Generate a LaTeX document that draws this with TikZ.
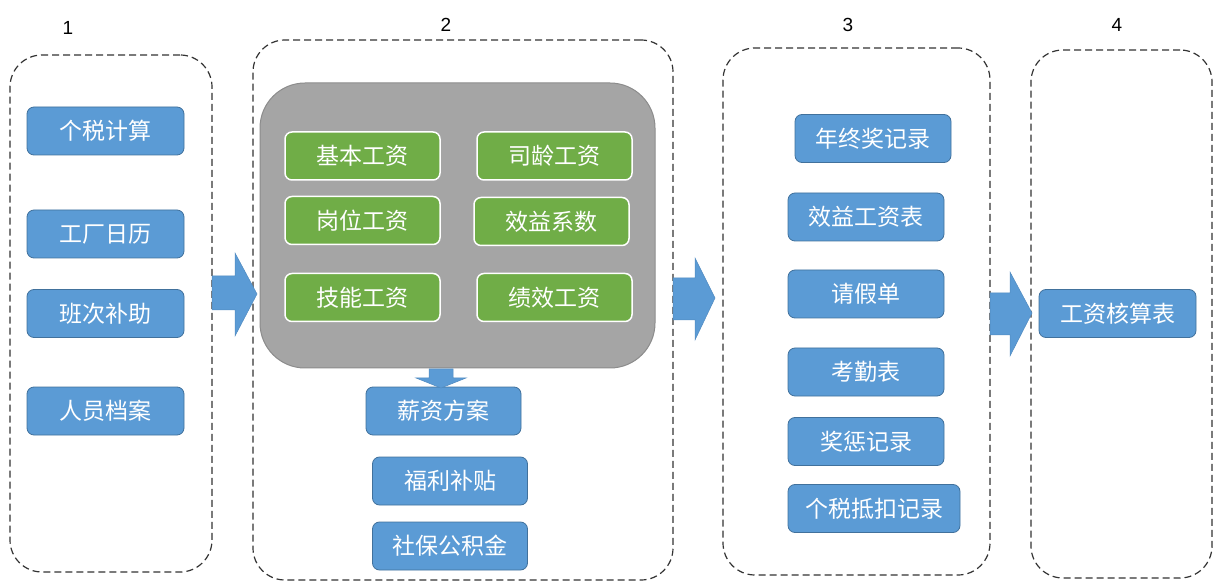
\documentclass[tikz,border=0pt]{standalone}
\usepackage{fontspec}
\setmainfont{Liberation Sans}
\newfontfamily\cjk{Noto Sans CJK SC}
\usepackage{xcolor}
\usepackage{tikz}
\usetikzlibrary{positioning,calc}

\definecolor{boxblue}{HTML}{5B9BD5}
\definecolor{boxblueline}{HTML}{41719C}
\definecolor{boxgreen}{HTML}{70AD47}
\definecolor{panelgray}{HTML}{A5A5A5}
\definecolor{panelline}{HTML}{8C8C8C}

\tikzset{
    group/.style={draw=black!80, dash pattern=on 7pt off 4pt, line width=1.2pt,
        rounded corners=32pt, inner sep=0pt},
    bluebox/.style={draw=boxblueline, line width=0.8pt, fill=boxblue, rounded corners=7pt,
        text=white, font=\cjk\fontsize{23}{26}\selectfont,
        minimum width=157pt, minimum height=48pt, inner sep=0pt},
    greenbox/.style={bluebox, draw=white, line width=1.5pt, fill=boxgreen, minimum width=155pt},
    numlabel/.style={font=\fontsize{19}{22}\selectfont},
    fatarrow/.style={fill=boxblue, draw=boxblue!90!black, line width=0.5pt}
}

\begin{document}
\begin{tikzpicture}[x=1pt, y=-1pt]
    \useasboundingbox (0,0) rectangle (1224,585);

    % Column frames
    \node[group, minimum width=202pt, minimum height=517pt] (grp1) at (111,313.5) {};
    \node[group, minimum width=420pt, minimum height=540pt] (grp2) at (463,310) {};
    \node[group, minimum width=267pt, minimum height=527pt] (grp3) at (856.5,311.5) {};
    \node[group, minimum width=181pt, minimum height=528pt] (grp4) at (1121.5,314) {};

    % Column numbers
    \node[numlabel] (num1) at (68,28) {1};
    \node[numlabel] (num2) at (446,25) {2};
    \node[numlabel] (num3) at (848,25) {3};
    \node[numlabel] (num4) at (1117,25) {4};

    % Column 1
    \node[bluebox] (tax)   at (105.5,131)   {个税计算};
    \node[bluebox] (cal)   at (105.5,234)   {工厂日历};
    \node[bluebox] (shift) at (105.5,313.5) {班次补助};
    \node[bluebox] (staff) at (105.5,411)   {人员档案};

    % Column 2: salary items
    \node[draw=panelline, line width=1pt, fill=panelgray, rounded corners=45pt,
        minimum width=395pt, minimum height=285pt] (panel) at (457.5,225.5) {};
    \node[greenbox] (base)    at (362.5,156)   {基本工资};
    \node[greenbox] (senior)  at (554.5,156)   {司龄工资};
    \node[greenbox] (post)    at (362.5,220.5) {岗位工资};
    \node[greenbox] (factor)  at (551.5,221.5) {效益系数};
    \node[greenbox] (skill)   at (362.5,297.5) {技能工资};
    \node[greenbox] (merit)   at (554.5,297.5) {绩效工资};

    \node[bluebox, minimum width=155pt] (plan)    at (443.5,411) {薪资方案};
    \node[bluebox, minimum width=155pt] (welfare) at (450,481)   {福利补贴};
    \node[bluebox, minimum width=155pt] (fund)    at (450,546)   {社保公积金};

    % Column 3
    \node[bluebox, minimum width=156pt] (bonus)  at (873,138.5) {年终奖记录};
    \node[bluebox, minimum width=156pt] (profit) at (866,217)   {效益工资表};
    \node[bluebox, minimum width=156pt] (leave)  at (866,294)   {请假单};
    \node[bluebox, minimum width=156pt] (attend) at (866,372)   {考勤表};
    \node[bluebox, minimum width=156pt] (reward) at (866,441.5) {奖惩记录};
    \node[bluebox, minimum width=172pt] (deduct) at (874,508.5) {个税抵扣记录};

    % Column 4
    \node[bluebox] (payroll) at (1117.5,313.5) {工资核算表};

    % Block arrows
    \draw[fatarrow] (212,276) -- (235,276) -- (235,253) -- (257,294) -- (235,336)
        -- (235,310) -- (212,310) -- cycle;
    \draw[fatarrow] (673,278) -- (695,278) -- (695,258) -- (715,298) -- (695,340)
        -- (695,320) -- (673,320) -- cycle;
    \draw[fatarrow] (990,293) -- (1010,293) -- (1010,272) -- (1032,313) -- (1010,356)
        -- (1010,335) -- (990,335) -- cycle;
    \draw[fatarrow] (429,369) -- (453,369) -- (453,378) -- (466,378) -- (441,388)
        -- (416,378) -- (429,378) -- cycle;
\end{tikzpicture}
\end{document}
